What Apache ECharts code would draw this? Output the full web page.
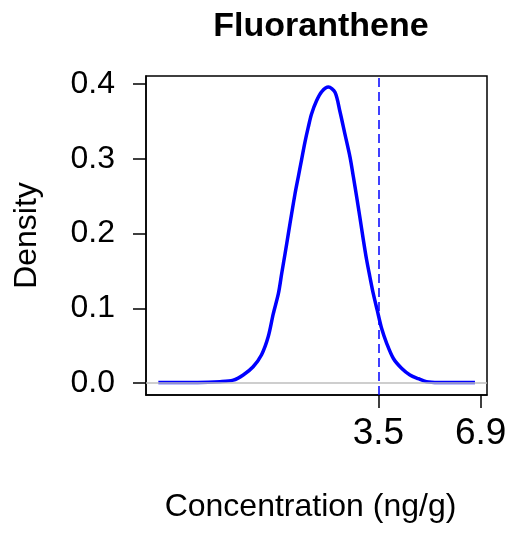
<!DOCTYPE html>
<html lang="en" style="height: 100%">
<head>
  <meta charset="utf-8">
</head>
<body style="height: 100%; margin: 0; background: #fff">
  <div id="container" style="width: 512px; height: 537px"></div>

  <script type="text/javascript" src="https://fastly.jsdelivr.net/npm/echarts@6/dist/echarts.min.js"></script>
  <script type="text/javascript">
    // density curve
    var conc = [-3.81, -2.50, -1.76, -1.32, -0.99, -0.66, -0.38, -0.16, 0.01, 0.18, 0.29, 0.40, 0.51, 0.62, 0.73, 0.84, 0.95, 1.06, 1.17, 1.28, 1.45, 1.62, 1.84, 2.06, 2.22, 2.39, 2.56, 2.67, 2.78, 2.89, 3.00, 3.11, 3.22, 3.33, 3.46, 3.61, 3.78, 4.00, 4.27, 4.55, 4.83, 5.10, 5.50, 6.71];
    var density = [0.001, 0.001, 0.002, 0.004, 0.011, 0.022, 0.038, 0.062, 0.093, 0.120, 0.147, 0.173, 0.200, 0.227, 0.253, 0.276, 0.299, 0.322, 0.342, 0.360, 0.378, 0.390, 0.396, 0.389, 0.364, 0.333, 0.302, 0.276, 0.249, 0.221, 0.192, 0.165, 0.142, 0.120, 0.098, 0.073, 0.053, 0.033, 0.020, 0.011, 0.006, 0.002, 0.001, 0.001];
    var xTicks = [3.5, 6.9];
    var yTicks = [0, 0.1, 0.2, 0.3, 0.4];
    var refLine = 3.5;

    var dom = document.getElementById('container');
    var myChart = echarts.init(dom, null, { renderer: 'canvas' });

    var font = 'Liberation Sans, Arial, sans-serif';
    var pts = conc.map(function (x, i) { return [x, density[i]]; });

    var option = {
      animation: false,
      title: {
        text: 'Fluoranthene',
        left: 316,
        top: 5,
        textAlign: 'center',
        textStyle: { fontFamily: font, fontSize: 34, fontWeight: 'bold', color: '#000' }
      },
      grid: {
        left: 146, right: 25, top: 76, bottom: 142,
        show: true, borderColor: '#000', borderWidth: 1.5, backgroundColor: 'transparent'
      },
      xAxis: {
        type: 'value',
        min: -4.22,
        max: 7.11,
        name: 'Concentration (ng/g)',
        nameLocation: 'middle',
        nameGap: 96,
        nameTextStyle: { fontFamily: font, fontSize: 32, color: '#000', padding: [0, 12, 0, 0] },
        axisLine: { show: true, onZero: false, lineStyle: { color: '#000', width: 1.5 } },
        axisTick: { show: true, length: 13, customValues: xTicks, lineStyle: { color: '#000', width: 1.5 } },
        axisLabel: {
          customValues: xTicks, margin: 20,
          fontFamily: font, fontSize: 37, color: '#000',
          formatter: function (v) { return v.toFixed(1); }
        },
        splitLine: { show: false }
      },
      yAxis: {
        type: 'value',
        min: -0.0158,
        max: 0.4108,
        name: 'Density',
        nameLocation: 'middle',
        nameRotate: 90,
        nameGap: 103,
        nameTextStyle: { fontFamily: font, fontSize: 32, color: '#000' },
        axisLine: { show: true, onZero: false, lineStyle: { color: '#000', width: 1.5 } },
        axisTick: { show: true, length: 13, customValues: yTicks, lineStyle: { color: '#000', width: 1.5 } },
        axisLabel: {
          customValues: yTicks, margin: 31,
          fontFamily: font, fontSize: 32, color: '#000',
          formatter: function (v) { return v.toFixed(1); }
        },
        splitLine: { show: false }
      },
      series: [{
        type: 'line',
        data: pts,
        showSymbol: false,
        smooth: 0.3,
        lineStyle: { color: '#0000ff', width: 3.5 },
        markLine: {
          silent: true,
          symbol: 'none',
          label: { show: false },
          data: [
            { yAxis: 0, lineStyle: { color: '#bebebe', width: 1.5, type: 'solid' } },
            { xAxis: refLine, lineStyle: { color: '#0000ff', width: 1.5, type: [9, 5] } }
          ]
        }
      }]
    };

    myChart.setOption(option);
    window.addEventListener('resize', myChart.resize);
  </script>
</body>
</html>
